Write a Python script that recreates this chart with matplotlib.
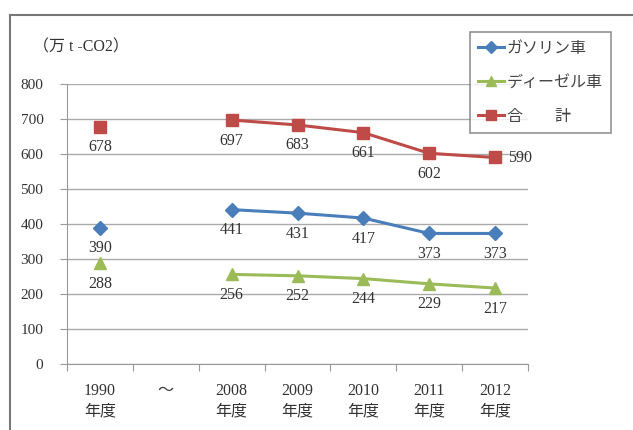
import numpy as np
import matplotlib
matplotlib.use("Agg")
import matplotlib.pyplot as plt
from matplotlib.lines import Line2D

plt.rcParams['font.family'] = ['Liberation Serif', 'Noto Sans CJK JP', 'DejaVu Sans']

categories = ["1990\n年度", "～", "2008\n年度", "2009\n年度", "2010\n年度", "2011\n年度", "2012\n年度"]
gasoline = [390, np.nan, 441, 431, 417, 373, 373]
diesel = [288, np.nan, 256, 252, 244, 229, 217]
total = [678, np.nan, 697, 683, 661, 602, 590]
series_names = ["ガソリン車", "ディーゼル車", "合　　計"]
unit_label = "（万 t -CO2）"

W, H = 633, 430
fig = plt.figure(figsize=(W / 100, H / 100), dpi=100)
ax = fig.add_axes([67 / W, 1 - 364 / H, (528 - 67) / W, (364 - 84) / H])

x = np.arange(len(categories))
c_blue, c_green, c_red = "#4a7ebb", "#9bbb59", "#be4b48"
l1, = ax.plot(x, gasoline, color=c_blue, marker="D", markersize=7, lw=2.2, label=series_names[0], zorder=3)
l2, = ax.plot(x, diesel, color=c_green, marker="^", markersize=9, lw=2.2, label=series_names[1], zorder=3)
l3, = ax.plot(x, total, color=c_red, marker="s", markersize=9, lw=2.2, label=series_names[2], zorder=3)

fs = 11.5
for vals in (gasoline, diesel, total):
    for i, v in enumerate(vals):
        if np.isnan(v):
            continue
        if vals is total and i == len(vals) - 1:
            ax.annotate(f"{int(v)}", (i, v), xytext=(9, 0), textcoords="offset points",
                        ha="left", va="center", fontsize=fs, color="#333333")
        else:
            ax.annotate(f"{int(v)}", (i, v), xytext=(0, -9), textcoords="offset points",
                        ha="center", va="top", fontsize=fs, color="#333333")

ax.set_xlim(-0.5, len(categories) - 0.5)
ax.set_ylim(0, 800)
ax.set_yticks(np.arange(0, 801, 100))
ax.set_xticks(np.arange(-0.5, len(categories), 1.0))
ax.set_xticklabels([])
ax.set_xticks(x, minor=True)
ax.set_xticklabels(categories, minor=True, fontsize=fs, color="#333333", linespacing=1.3)
ax.tick_params(axis="x", which="minor", length=0, pad=14)
ax.tick_params(axis="x", which="major", length=5, color="#999999", direction="out")
ax.tick_params(axis="y", length=5, color="#999999", labelsize=11, labelcolor="#333333", pad=12)
ax.grid(axis="y", color="#aaaaaa", lw=1)
ax.set_axisbelow(True)
for s in ("top", "right"):
    ax.spines[s].set_visible(False)
ax.spines["left"].set_color("#999999")
ax.spines["bottom"].set_color("#999999")

leg = fig.legend(handles=[l1, l2, l3], loc="upper left",
                 bbox_to_anchor=(470 / W, 1 - 32 / H), frameon=True, fancybox=False,
                 edgecolor="#777777", handlelength=1.6, handletextpad=0.2,
                 borderpad=0.5, labelspacing=1.05, borderaxespad=0, markerscale=0.85,
                 prop={'family': ['Noto Sans CJK JP'], 'size': 11.5})
leg.get_frame().set_linewidth(1.2)
for t in leg.get_texts():
    t.set_color("#444444")

fig.text(33 / W, 1 - 47 / H, unit_label, fontsize=11.5, va="center", ha="left", color="#333333")

fig.add_artist(Line2D([10 / W, 1], [1 - 15 / H, 1 - 15 / H], transform=fig.transFigure, color="#777777", lw=1.5))
fig.add_artist(Line2D([10 / W, 10 / W], [0, 1 - 15 / H], transform=fig.transFigure, color="#777777", lw=1.5))

fig.savefig("out.png", dpi=100)
